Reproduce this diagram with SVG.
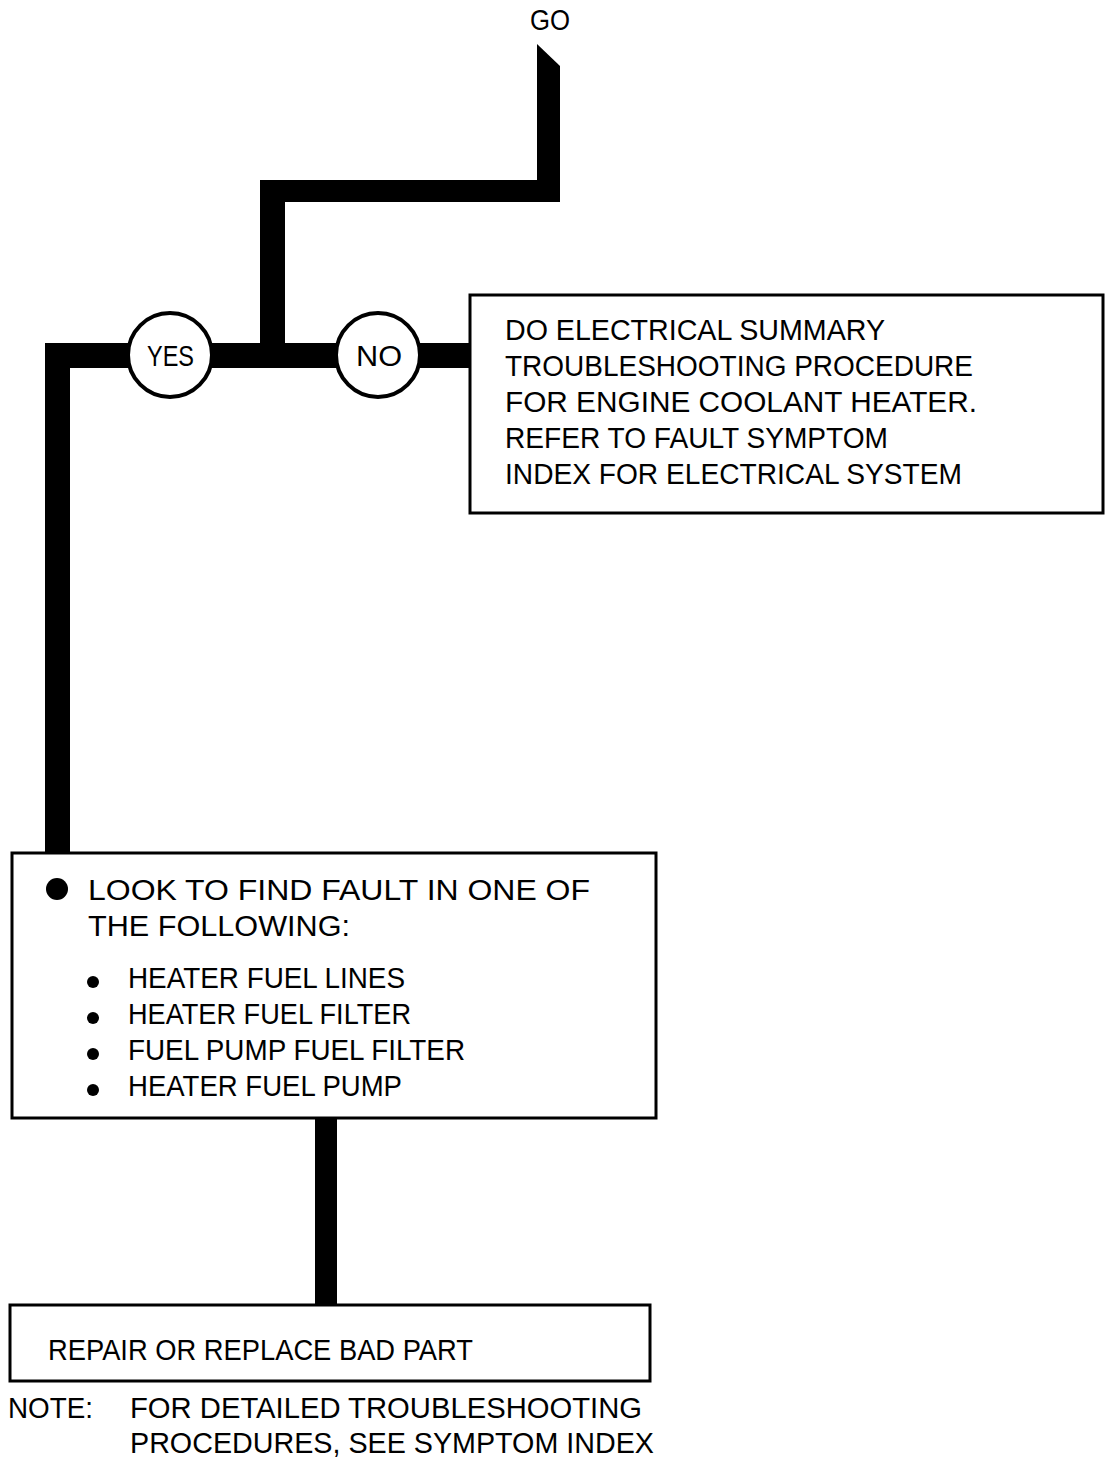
<svg xmlns="http://www.w3.org/2000/svg" width="1109" height="1459" viewBox="0 0 1109 1459">
<style>
text{font-family:"Liberation Sans",Arial,sans-serif;fill:#000;font-size:30px}
.box{fill:#fff;stroke:#000;stroke-width:3}
.dec{fill:#fff;stroke:#000;stroke-width:4}
.bar{fill:#000}
</style>
<rect width="1109" height="1459" fill="#fff"/>
<g id="connectors">
<polygon class="bar" points="537,44 560,66 560,202 537,202"/>
<rect class="bar" x="260" y="180" width="300" height="22"/>
<rect class="bar" x="260" y="180" width="25" height="188"/>
<rect class="bar" x="45" y="343" width="425" height="25"/>
<rect class="bar" x="45" y="343" width="25" height="512"/>
<rect class="bar" x="315" y="1118" width="22" height="189"/>
</g>
<g id="start">
<text x="530" y="30" font-size="26" textLength="40" lengthAdjust="spacingAndGlyphs">GO</text>
</g>
<g id="yes">
<circle class="dec" cx="170" cy="355" r="42"/>
<text x="147" y="366" font-size="27" textLength="47" lengthAdjust="spacingAndGlyphs">YES</text>
</g>
<g id="no">
<circle class="dec" cx="378" cy="355" r="42"/>
<text x="356" y="366" font-size="27" textLength="46" lengthAdjust="spacingAndGlyphs">NO</text>
</g>
<g id="electrical">
<rect class="box" x="470" y="295" width="633" height="218"/>
<text x="505" y="340" textLength="380" lengthAdjust="spacingAndGlyphs">DO ELECTRICAL SUMMARY</text>
<text x="505" y="376" textLength="468" lengthAdjust="spacingAndGlyphs">TROUBLESHOOTING PROCEDURE</text>
<text x="505" y="412" textLength="472" lengthAdjust="spacingAndGlyphs">FOR ENGINE COOLANT HEATER.</text>
<text x="505" y="448" textLength="383" lengthAdjust="spacingAndGlyphs">REFER TO FAULT SYMPTOM</text>
<text x="505" y="484" textLength="457" lengthAdjust="spacingAndGlyphs">INDEX FOR ELECTRICAL SYSTEM</text>
</g>
<g id="lookfault">
<rect class="box" x="12" y="853" width="644" height="265"/>
<circle cx="57" cy="889" r="11"/>
<text x="88" y="900" textLength="502" lengthAdjust="spacingAndGlyphs">LOOK TO FIND FAULT IN ONE OF</text>
<text x="88" y="936" textLength="262" lengthAdjust="spacingAndGlyphs">THE FOLLOWING:</text>
<circle cx="93" cy="982" r="6"/>
<text x="128" y="988" textLength="277" lengthAdjust="spacingAndGlyphs">HEATER FUEL LINES</text>
<circle cx="93" cy="1018" r="6"/>
<text x="128" y="1024" textLength="283" lengthAdjust="spacingAndGlyphs">HEATER FUEL FILTER</text>
<circle cx="93" cy="1054" r="6"/>
<text x="128" y="1060" textLength="337" lengthAdjust="spacingAndGlyphs">FUEL PUMP FUEL FILTER</text>
<circle cx="93" cy="1090" r="6"/>
<text x="128" y="1096" textLength="274" lengthAdjust="spacingAndGlyphs">HEATER FUEL PUMP</text>
</g>
<g id="repair">
<rect class="box" x="10" y="1305" width="640" height="76"/>
<text x="48" y="1360" textLength="425" lengthAdjust="spacingAndGlyphs">REPAIR OR REPLACE BAD PART</text>
</g>
<g id="note">
<text x="8" y="1418" textLength="85" lengthAdjust="spacingAndGlyphs">NOTE:</text>
<text x="130" y="1418" textLength="512" lengthAdjust="spacingAndGlyphs">FOR DETAILED TROUBLESHOOTING</text>
<text x="130" y="1453" textLength="524" lengthAdjust="spacingAndGlyphs">PROCEDURES, SEE SYMPTOM INDEX</text>
</g>
</svg>
